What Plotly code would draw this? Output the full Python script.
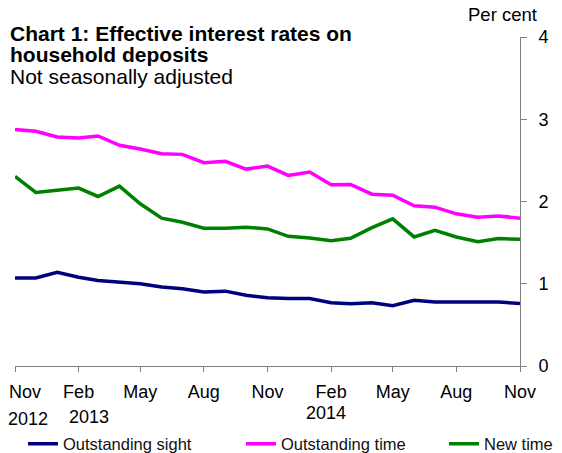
import plotly.graph_objects as go
import pandas as pd

months = pd.date_range("2012-11-01", "2014-11-01", freq="MS")
outstanding_sight = [1.07, 1.07, 1.14, 1.08, 1.04, 1.02, 1.00, 0.96, 0.94, 0.90, 0.91, 0.86, 0.83,
                     0.82, 0.82, 0.77, 0.757, 0.77, 0.733, 0.80, 0.777, 0.777, 0.777, 0.777, 0.761]
outstanding_time = [2.874, 2.854, 2.785, 2.772, 2.797, 2.683, 2.638, 2.581, 2.573, 2.472, 2.488,
                    2.394, 2.431, 2.317, 2.358, 2.203, 2.207, 2.089, 2.077, 1.947, 1.931, 1.850,
                    1.809, 1.825, 1.797]
new_time = [2.305, 2.110, 2.138, 2.163, 2.061, 2.187, 1.972, 1.797, 1.748, 1.675, 1.675, 1.687,
            1.667, 1.577, 1.557, 1.524, 1.553, 1.683, 1.789, 1.569, 1.650, 1.569, 1.512, 1.549,
            1.541]
tick_months = ["Nov", "Feb", "May", "Aug", "Nov", "Feb", "May", "Aug", "Nov"]
year_labels = [("2012", "2012-11-01", 411), ("2013", "2013-02-01", 409), ("2014", "2014-02-01", 405)]
y_ticks = [0, 1, 2, 3, 4]

FONT = "Liberation Sans, Arial, sans-serif"
# the page body adds 8px on the left and top, so the figure is laid out 8px smaller
W, H = 554, 445
L, R, T, B = 7, 42, 29, 87
PW, PH = W - L - R, H - T - B

series = [("Outstanding sight", outstanding_sight, "#000080", "legend", 15),
          ("Outstanding time", outstanding_time, "#FF00FF", "legend2", 233),
          ("New time", new_time, "#008000", "legend3", 436)]

fig = go.Figure()
for name, vals, col, leg, lx in series:
    fig.add_trace(go.Scatter(x=months, y=vals, mode="lines", name=name, legend=leg,
                             line=dict(color=col, width=3.5)))

legend_common = dict(orientation="h", xref="container", yref="container", xanchor="left",
                     yanchor="middle", y=1 - 436 / H, font=dict(size=16.5, color="#111111"),
                     bgcolor="rgba(0,0,0,0)", borderwidth=0)
legends = {leg: dict(legend_common, x=lx / W) for name, vals, col, leg, lx in series}

tickvals = list(months[::3])
ticktext = ["\u00a0\u00a0\u00a0\u00a0" + tick_months[0]] + tick_months[1:]
fig.update_layout(
    width=W, height=H,
    margin=dict(l=L, r=R, t=T, b=B),
    plot_bgcolor="white", paper_bgcolor="white",
    font=dict(family=FONT, color="black", size=18),
    showlegend=True,
    xaxis=dict(range=[months[0], months[-1]], tickvals=tickvals, ticktext=ticktext,
               showgrid=False, zeroline=False, showline=True, linecolor="#808080", linewidth=1,
               ticks="outside", ticklen=5, tickcolor="#808080", automargin=False,
               ticklabeloverflow="allow", ticklabelstandoff=4,
               tickfont=dict(size=18, color="black")),
    yaxis=dict(range=[0, 4], tickvals=y_ticks, side="right", showgrid=False, zeroline=False,
               showline=True, linecolor="#808080", linewidth=1, ticks="outside", ticklen=6,
               tickcolor="#808080", automargin=False, ticklabelstandoff=8,
               tickfont=dict(size=18, color="black")),
    **legends,
)


def px_x(p):
    return (p - L) / PW


def px_y(p):
    return (H - B - p) / PH


x_shift = {"2012": None, "2013": 10, "2014": -5}
for txt, d, yc in year_labels:
    if x_shift[txt] is None:
        fig.add_annotation(x=px_x(-2), y=px_y(yc), xref="paper", yref="paper", text=txt,
                           showarrow=False, xanchor="left", yanchor="middle", font=dict(size=18))
    else:
        fig.add_annotation(x=d, y=px_y(yc), xref="x", yref="paper", text=txt, showarrow=False,
                           xshift=x_shift[txt], yanchor="middle", font=dict(size=18))

fig.add_annotation(x=px_x(531), y=px_y(7), xref="paper", yref="paper", xanchor="right",
                   yanchor="middle", text="Per cent", showarrow=False, font=dict(size=18.5))

title_lines = [("<b>Chart 1: Effective interest rates on</b>", 26),
               ("<b>household deposits</b>", 47),
               ("Not seasonally adjusted", 68)]
for txt, ypix in title_lines:
    fig.add_annotation(x=px_x(0), xref="paper", y=px_y(ypix), yref="paper",
                       xanchor="left", yanchor="middle", text=txt, showarrow=False,
                       font=dict(size=21))

fig.write_html("out.html")
